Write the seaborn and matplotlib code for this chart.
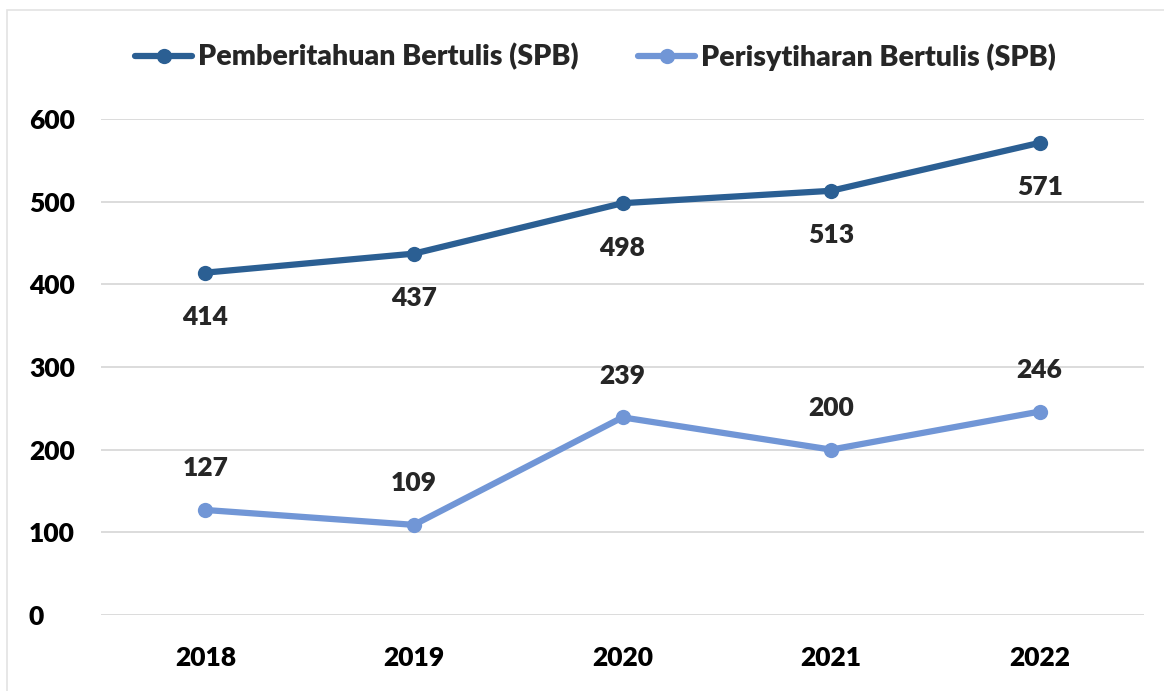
import matplotlib.pyplot as plt
import seaborn as sns
import pandas as pd

years = ["2018", "2019", "2020", "2021", "2022"]
pemberitahuan = [414, 437, 498, 513, 571]
perisytiharan = [127, 109, 239, 200, 246]
series_names = ["Pemberitahuan Bertulis (SPB)", "Perisytiharan Bertulis (SPB)"]
colors = ["#2B5F93", "#7196D6"]

df = pd.DataFrame({
    "Tahun": years * 2,
    "Nilai": pemberitahuan + perisytiharan,
    "Siri": [series_names[0]] * 5 + [series_names[1]] * 5,
})

sns.set_style("white")
plt.rcParams["font.family"] = ["Lato", "DejaVu Sans"]
W = "heavy"

fig = plt.figure(figsize=(11.64, 6.91), dpi=100)
ax = fig.add_axes([0.0868, 0.11, 0.896, 0.718])

sns.lineplot(
    data=df, x="Tahun", y="Nilai", hue="Siri", palette=colors,
    marker="o", markersize=11, markeredgewidth=0, linewidth=4.5, ax=ax,
)

ax.set_xlim(-0.5, 4.5)
ax.set_ylim(0, 600)
ax.set_yticks(range(0, 601, 100))
ax.yaxis.grid(True, color="#D9D9D9", linewidth=1.3)
ax.xaxis.grid(False)
for s in ax.spines.values():
    s.set_visible(False)
ax.set_xlabel("")
ax.set_ylabel("")
ax.tick_params(axis="both", length=0, labelsize=19, colors="#000000")
ax.tick_params(axis="x", pad=22)
ax.tick_params(axis="y", pad=52)
for lbl in ax.get_xticklabels() + ax.get_yticklabels():
    lbl.set_fontweight(W)
for lbl in ax.get_yticklabels():
    lbl.set_horizontalalignment("left")

# data labels
for i, v in enumerate(pemberitahuan):
    ax.annotate(str(v), (i, v), xytext=(0, -32), textcoords="offset points",
                ha="center", va="center", fontsize=19, fontweight=W)
for i, v in enumerate(perisytiharan):
    ax.annotate(str(v), (i, v), xytext=(0, 30), textcoords="offset points",
                ha="center", va="center", fontsize=19, fontweight=W)

leg = ax.legend(
    loc="center", bbox_to_anchor=(0.474, 1.125), ncol=2, frameon=False,
    handlelength=2.0, handletextpad=0.2, columnspacing=2.1,
    prop={"weight": W, "size": 20.5},
)

# faint outer border
border = plt.Rectangle((0.006, -0.02), 1.2, 1.005, transform=fig.transFigure,
                       fill=False, edgecolor="#E3E3E3", linewidth=1.2)
fig.patches.append(border)

fig.savefig("out.png", dpi=100)
